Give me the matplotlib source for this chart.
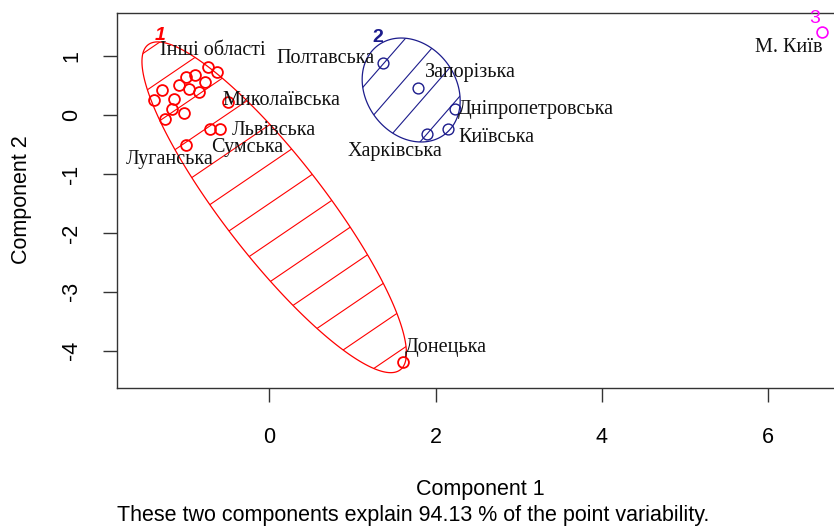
import numpy as np
import matplotlib
matplotlib.use('Agg')
import matplotlib.pyplot as plt
from matplotlib import font_manager
from matplotlib.patches import Polygon

# cluster 1 (red): projected points on components 1 and 2
c1_x = [-0.73, -0.625, -1.00, -0.89, -1.09, -0.96, -0.85, -0.77, -1.29, -1.39,
        -1.14, -1.17, -1.02, -1.25, -0.50, -0.71, -0.59, -1.00, 1.61]
c1_y = [0.81, 0.73, 0.64, 0.68, 0.51, 0.44, 0.39, 0.56, 0.42, 0.25,
        0.27, 0.10, 0.03, -0.07, 0.22, -0.24, -0.24, -0.51, -4.19]
# cluster 2 (blue)
c2_x = [1.37, 1.79, 2.24, 1.90, 2.15]
c2_y = [0.88, 0.46, 0.10, -0.32, -0.24]
# cluster 3 (magenta)
c3_x = [6.65]
c3_y = [1.41]

# spanning ellipses: centre and 2x2 shape matrix
ell1_center = [0.06, -1.565]
ell1_shape = [[2.528, -3.93], [-3.93, 7.868]]
ell2_center = [1.707, 0.424]
ell2_shape = [[0.347, -0.106], [-0.106, 0.777]]

# region labels and where the text starts
label_text = ['Інші області', 'Полтавська', 'Запорізька', 'Миколаївська',
              'Дніпропетровська', 'Львівська', 'Київська', 'Сумська',
              'Харківська', 'Луганська', 'Донецька', 'М. Київ']
label_x = [-1.31, 0.084, 1.875, -0.565, 2.272, -0.445, 2.272, -0.697,
           0.938, -1.719, 1.635, 5.841]
label_y = [1.09, 0.966, 0.729, 0.254, 0.085, -0.271, -0.390, -0.559,
           -0.627, -0.763, -3.949, 1.153]

x_ticks = [0, 2, 4, 6]
y_ticks = [-4, -3, -2, -1, 0, 1]
explained = 94.13

RED = '#ff0000'
BLUE = '#1c1c8c'
MAGENTA = '#ff00ff'

available = {f.name for f in font_manager.fontManager.ttflist}
if 'Liberation Sans Narrow' in available:
    SANS, SANS_SIZE = 'Liberation Sans Narrow', 18.5
else:
    SANS, SANS_SIZE = 'Liberation Sans', 15.5
SERIF = 'Liberation Serif'


def ellipse_points(center, shape, n=240):
    L = np.linalg.cholesky(np.array(shape))
    t = np.linspace(0, 2 * np.pi, n)
    circ = np.vstack([np.cos(t), np.sin(t)])
    pts = L @ circ
    return np.column_stack([pts[0] + center[0], pts[1] + center[1]])


def draw_cluster_ellipse(ax, center, shape, color, slope, step, phase):
    poly = Polygon(ellipse_points(center, shape), closed=True, fill=False,
                   edgecolor=color, lw=0.9)
    ax.add_patch(poly)
    # shading lines, clipped to the ellipse
    xs = np.array([-3.0, 9.0])
    for k in range(-15, 16):
        b = phase + k * step
        ln, = ax.plot(xs, slope * xs + b, color=color, lw=0.8)
        ln.set_clip_path(poly)


fig = plt.figure(figsize=(8.34, 5.27), dpi=100)
ax = fig.add_axes([117 / 834, 1 - 388 / 527, (863 - 117) / 834, 375 / 527])
ax.set_xlim(-1.83, 7.14)
ax.set_ylim(-4.63, 1.73)

draw_cluster_ellipse(ax, ell1_center, ell1_shape, RED, 0.959, 0.667, -2.837)
draw_cluster_ellipse(ax, ell2_center, ell2_shape, BLUE, 1.62, 0.68, -2.035)

ax.plot(c1_x, c1_y, 'o', mfc='none', mec=RED, ms=7.8, mew=1.3)
ax.plot(c2_x, c2_y, 'o', mfc='none', mec=BLUE, ms=7.8, mew=1.0)
ax.plot(c3_x, c3_y, 'o', mfc='none', mec=MAGENTA, ms=7.8, mew=1.2)

# cluster numbers
ax.text(-1.31, 1.34, '1', color=RED, fontsize=14, family=SANS, weight='bold',
        style='italic', ha='center', va='center')
ax.text(1.31, 1.32, '2', color=BLUE, fontsize=14, family=SANS, weight='bold',
        ha='center', va='center')
ax.text(6.56, 1.644, '3', color=MAGENTA, fontsize=14, family=SANS,
        ha='center', va='center')

for txt, tx, ty in zip(label_text, label_x, label_y):
    ax.text(tx, ty, txt, family=SERIF, fontsize=14.5, color='#111111',
            ha='left', va='center')

# axes styling like R base graphics
ax.spines['right'].set_visible(False)
for s in ['top', 'left', 'bottom']:
    ax.spines[s].set_linewidth(1.0)
    ax.spines[s].set_color('#333333')
ax.set_xticks(x_ticks)
ax.set_yticks(y_ticks)
ax.set_xticklabels([str(v) for v in x_ticks], family=SANS, fontsize=SANS_SIZE)
ax.set_yticklabels([str(v) for v in y_ticks], family=SANS, fontsize=SANS_SIZE,
                   rotation=90, va='center')
ax.tick_params(axis='both', direction='out', length=10, width=1.0, color='#333333')
ax.tick_params(axis='x', pad=18)
ax.tick_params(axis='y', pad=15)

fig.text(22 / 834, 1 - 200 / 527, 'Component 2', rotation=90, family=SANS,
         fontsize=SANS_SIZE, ha='center', va='center')
fig.text(480 / 834, 1 - 489 / 527, 'Component 1', family=SANS,
         fontsize=SANS_SIZE, ha='center', va='center')
fig.text(117 / 834, 1 - 515 / 527,
         'These two components explain %.2f %% of the point variability.' % explained,
         family=SANS, fontsize=SANS_SIZE, ha='left', va='center')

fig.savefig('out.png', dpi=100)
